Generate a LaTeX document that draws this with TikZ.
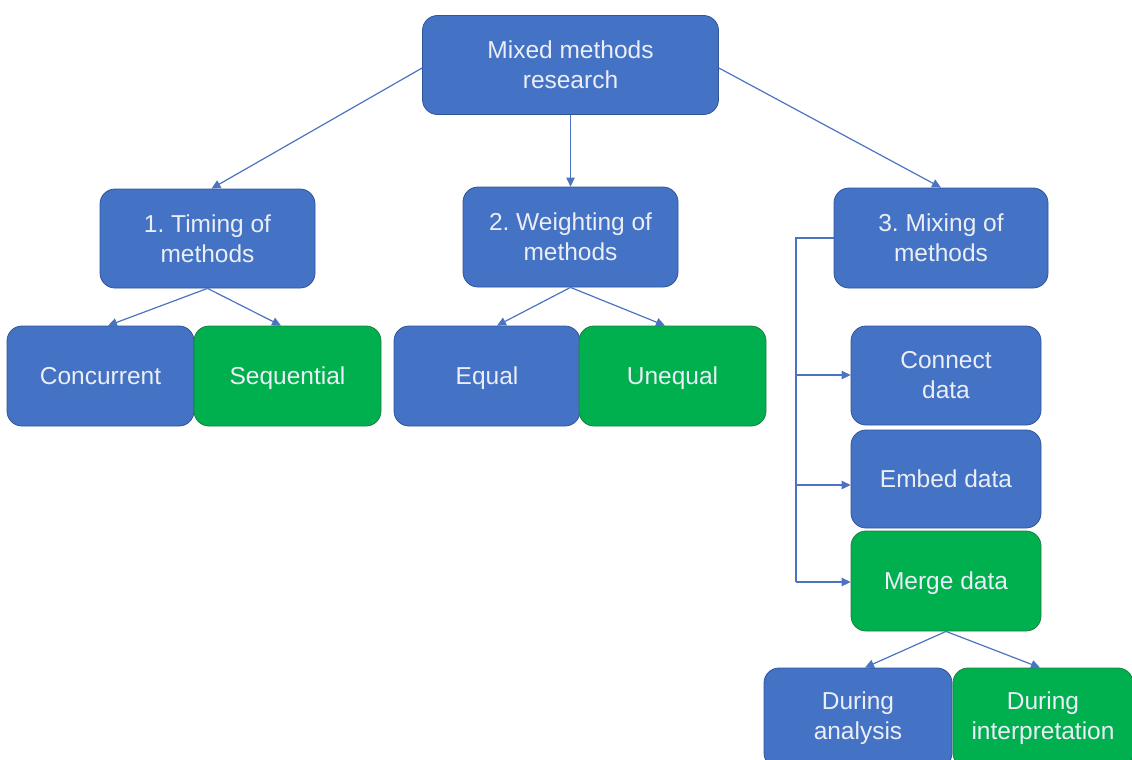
\documentclass[tikz,border=0pt]{standalone}
\usepackage{fontspec}
\setmainfont{Liberation Sans}
\usetikzlibrary{arrows.meta}
\frenchspacing
\definecolor{boxblue}{HTML}{4472C4}
\definecolor{edgeblue}{HTML}{2F5597}
\definecolor{boxgreen}{HTML}{00B04F}
\definecolor{edgegreen}{HTML}{1E7F3E}
\definecolor{linkblue}{HTML}{4A74C0}
\definecolor{labelwhite}{HTML}{EBEEF6}
\begin{document}
\begin{tikzpicture}[x=1pt,y=-1pt,
  card/.style={draw=edgeblue, fill=boxblue, line width=0.8pt, rounded corners=15pt,
    text=labelwhite, align=center, inner sep=0pt,
    font=\fontsize{24.5}{30}\selectfont},
  bluecard/.style={card},
  greencard/.style={card, draw=edgegreen, fill=boxgreen},
  oneline/.style={text height=17.5pt, text depth=0pt},
  link/.style={draw=linkblue, line width=1.2pt, -{Triangle[length=9pt,width=8.5pt]}},
  plainlink/.style={draw=linkblue, line width=1.2pt}]
  \useasboundingbox (0,0) rectangle (1132,760);
  \clip (0,0) rectangle (1132,760);

  % root of the tree
  \node[bluecard, minimum width=296pt, minimum height=99pt] (root) at (570.5,65) {Mixed methods\\research};

  % three dimensions
  \node[bluecard, minimum width=215pt, minimum height=99pt] (timing) at (207.5,238.5) {1. Timing of\\methods};
  \node[bluecard, minimum width=215pt, minimum height=100pt] (weight) at (570.5,237) {2. Weighting of\\methods};
  \node[bluecard, minimum width=214pt, minimum height=100pt] (mixing) at (941,238) {3. Mixing of\\methods};

  % timing options
  \node[bluecard, oneline, minimum width=187pt, minimum height=100pt] (conc) at (100.5,376) {Concurrent};
  \node[greencard, oneline, minimum width=187pt, minimum height=100pt] (seq) at (287.5,376) {Sequential};

  % weighting options
  \node[bluecard, oneline, minimum width=186pt, minimum height=100pt] (equal) at (487,376) {Equal};
  \node[greencard, oneline, minimum width=187pt, minimum height=100pt] (unequal) at (672.5,376) {Unequal};

  % mixing options
  \node[bluecard, minimum width=190pt, minimum height=99pt] (connect) at (946,375.5) {Connect\\data};
  \node[bluecard, oneline, minimum width=190pt, minimum height=98pt] (embed) at (946,479) {Embed data};
  \node[greencard, oneline, minimum width=190pt, minimum height=100pt] (merge) at (946,581) {Merge data};

  % merge options
  \node[bluecard, minimum width=188pt, minimum height=100pt] (analysis) at (858,718) {During\\analysis};
  \node[greencard, minimum width=180pt, minimum height=100pt] (interp) at (1043,718) {During\\interpretation};

  % connectors from the root
  \draw[link] (root.west |- 0,68) -- ([xshift=4pt]timing.north);
  \draw[link] (root.south) -- (weight.north);
  \draw[link] (root.east |- 0,68) -- (mixing.north);

  % timing and weighting branches
  \draw[link] (timing.south) -- (conc.north -| 108,0);
  \draw[link] (timing.south) -- (seq.north -| 281,0);
  \draw[link] (weight.south) -- (equal.north -| 497,0);
  \draw[link] (weight.south) -- (unequal.north -| 665,0);

  % mixing bracket
  \coordinate (bend) at (796,238);
  \coordinate (foot) at (796,582);
  \draw[plainlink] (mixing.west |- bend) -- (bend) -- (foot);
  \draw[link] (796,375) -- (connect.west |- 0,375);
  \draw[link] (796,485) -- (embed.west |- 0,485);
  \draw[link] (foot) -- (merge.west |- foot);

  % merge branches
  \draw[link] (merge.south) -- (analysis.north -| 865,0);
  \draw[link] (merge.south) -- (interp.north -| 1040,0);
\end{tikzpicture}
\end{document}
